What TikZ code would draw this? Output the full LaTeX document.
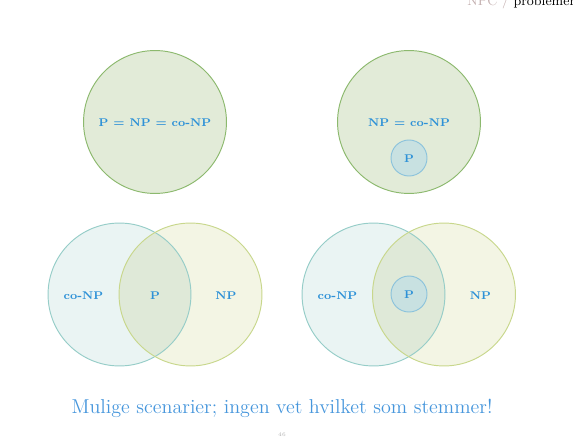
\documentclass[tikz,border=0pt]{standalone}
\definecolor{topfill}{RGB}{226,235,216}
\definecolor{topstroke}{RGB}{140,185,110}
\definecolor{cofill}{RGB}{234,244,243}
\definecolor{costroke}{RGB}{150,205,200}
\definecolor{npfill}{RGB}{243,245,228}
\definecolor{npstroke}{RGB}{200,215,140}
\definecolor{interfill}{RGB}{223,233,216}
\definecolor{pfill}{RGB}{200,225,225}
\definecolor{pstroke}{RGB}{140,195,220}
\definecolor{textblue}{RGB}{45,145,215}
\definecolor{capblue}{RGB}{70,150,220}
\definecolor{hdrgray}{RGB}{195,175,175}
\begin{document}
\begin{tikzpicture}[x=0.6332pt,y=-0.6332pt,
  bigc/.style={circle,inner sep=0pt,minimum size=90.5pt,line width=0.6pt},
  smallc/.style={circle,inner sep=0pt,minimum size=22.8pt,line width=0.6pt,draw=pstroke,fill=pfill},
  lbl/.style={text=textblue,font=\fontsize{7.1}{9}\selectfont\bfseries,inner sep=0pt}]
\useasboundingbox (0,0) rectangle (573,438);
% header
\node[anchor=base west,inner sep=0pt,font=\fontsize{8.6}{11}\selectfont] (hdr) at (467,6)
  {\textcolor{hdrgray}{NPC} \textcolor{hdrgray}{/} problemer};
% top left
\node[bigc,draw=topstroke,fill=topfill] (A) at (155,122) {};
\node[lbl] (Atxt) at (155,123) {P = NP = co-NP};
% top right
\node[bigc,draw=topstroke,fill=topfill] (B) at (409,122) {};
\node[lbl] (Btxt) at (409,123) {NP = co-NP};
\node[smallc] (BP) at (409,158) {};
\node[lbl] (BPtxt) at (409,158.5) {P};
% bottom left venn
\node[bigc,fill=cofill] (C1) at (119.5,294.5) {};
\node[bigc,fill=npfill] (C2) at (190.5,294.5) {};
\begin{scope}
  \clip (119.5,294.5) circle[radius=71.5];
  \fill[interfill] (190.5,294.5) circle[radius=71.5];
\end{scope}
\node[bigc,draw=costroke] (C1s) at (119.5,294.5) {};
\node[bigc,draw=npstroke] (C2s) at (190.5,294.5) {};
\node[lbl] (Cco) at (83.5,296) {co-NP};
\node[lbl] (CP) at (155,296) {P};
\node[lbl] (CNP) at (226,296) {NP};
% bottom right venn
\node[bigc,fill=cofill] (D1) at (373.5,294.5) {};
\node[bigc,fill=npfill] (D2) at (444,294.5) {};
\begin{scope}
  \clip (373.5,294.5) circle[radius=71.5];
  \fill[interfill] (444,294.5) circle[radius=71.5];
\end{scope}
\node[bigc,draw=costroke] (D1s) at (373.5,294.5) {};
\node[bigc,draw=npstroke] (D2s) at (444,294.5) {};
\node[smallc] (DP) at (409,294) {};
\node[lbl] (DPtxt) at (409,295) {P};
\node[lbl] (Dco) at (337.5,296) {co-NP};
\node[lbl] (DNP) at (480.5,296) {NP};
% caption
\node[text=capblue,font=\fontsize{12.7}{15}\selectfont,inner sep=0pt] (cap) at (282,408)
  {Mulige scenarier; ingen vet hvilket som stemmer!};
\node[text=gray!60,font=\fontsize{3.5}{4}\selectfont,inner sep=0pt] (pg) at (282,435) {46};
\end{tikzpicture}
\end{document}
